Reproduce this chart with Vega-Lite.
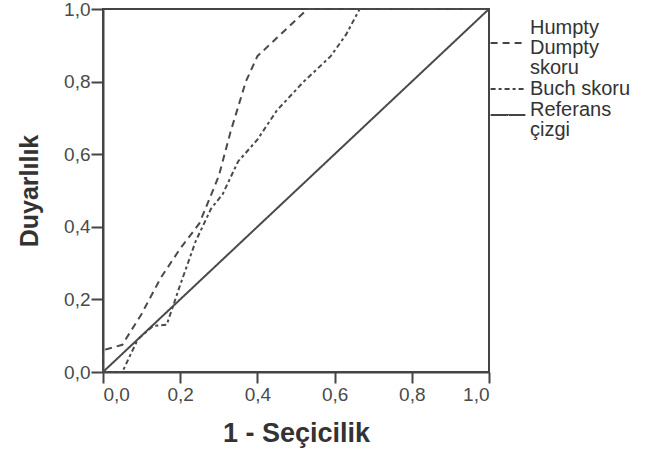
{
  "$schema": "https://vega.github.io/schema/vega-lite/v6.json",
  "width": 386,
  "height": 363,
  "autosize": "none",
  "padding": {"left": 103, "top": 9, "right": 161, "bottom": 82},
  "background": "white",
  "config": {
    "font": "Liberation Sans",
    "view": {"stroke": "#444444", "strokeWidth": 2}
  },
  "data": {
    "values": [
      {"series": "Humpty|Dumpty|skoru", "o": 0, "x": 0.0, "y": 0.0},
      {"series": "Humpty|Dumpty|skoru", "o": 1, "x": 0.0, "y": 0.06},
      {"series": "Humpty|Dumpty|skoru", "o": 2, "x": 0.05, "y": 0.075},
      {"series": "Humpty|Dumpty|skoru", "o": 3, "x": 0.1, "y": 0.16},
      {"series": "Humpty|Dumpty|skoru", "o": 4, "x": 0.15, "y": 0.26},
      {"series": "Humpty|Dumpty|skoru", "o": 5, "x": 0.2, "y": 0.34},
      {"series": "Humpty|Dumpty|skoru", "o": 6, "x": 0.25, "y": 0.41},
      {"series": "Humpty|Dumpty|skoru", "o": 7, "x": 0.3, "y": 0.54},
      {"series": "Humpty|Dumpty|skoru", "o": 8, "x": 0.33, "y": 0.66},
      {"series": "Humpty|Dumpty|skoru", "o": 9, "x": 0.37, "y": 0.8},
      {"series": "Humpty|Dumpty|skoru", "o": 10, "x": 0.4, "y": 0.87},
      {"series": "Humpty|Dumpty|skoru", "o": 11, "x": 0.45, "y": 0.92},
      {"series": "Humpty|Dumpty|skoru", "o": 12, "x": 0.5, "y": 0.97},
      {"series": "Humpty|Dumpty|skoru", "o": 13, "x": 0.53, "y": 1.0},
      {"series": "Humpty|Dumpty|skoru", "o": 14, "x": 1.0, "y": 1.0},
      {"series": "Buch skoru", "o": 0, "x": 0.0, "y": 0.0},
      {"series": "Buch skoru", "o": 1, "x": 0.05, "y": 0.0},
      {"series": "Buch skoru", "o": 2, "x": 0.09, "y": 0.09},
      {"series": "Buch skoru", "o": 3, "x": 0.13, "y": 0.127},
      {"series": "Buch skoru", "o": 4, "x": 0.165, "y": 0.13},
      {"series": "Buch skoru", "o": 5, "x": 0.2, "y": 0.24},
      {"series": "Buch skoru", "o": 6, "x": 0.24, "y": 0.36},
      {"series": "Buch skoru", "o": 7, "x": 0.28, "y": 0.45},
      {"series": "Buch skoru", "o": 8, "x": 0.31, "y": 0.49},
      {"series": "Buch skoru", "o": 9, "x": 0.35, "y": 0.58},
      {"series": "Buch skoru", "o": 10, "x": 0.4, "y": 0.64},
      {"series": "Buch skoru", "o": 11, "x": 0.45, "y": 0.72},
      {"series": "Buch skoru", "o": 12, "x": 0.52, "y": 0.8},
      {"series": "Buch skoru", "o": 13, "x": 0.59, "y": 0.87},
      {"series": "Buch skoru", "o": 14, "x": 0.63, "y": 0.93},
      {"series": "Buch skoru", "o": 15, "x": 0.665, "y": 1.0},
      {"series": "Buch skoru", "o": 16, "x": 1.0, "y": 1.0},
      {"series": "Referans|çizgi", "o": 0, "x": 0.0, "y": 0.0},
      {"series": "Referans|çizgi", "o": 1, "x": 1.0, "y": 1.0}
    ]
  },
  "mark": {"type": "line", "color": "#4a4a4a", "strokeWidth": 2},
  "encoding": {
    "x": {
      "field": "x", "type": "quantitative",
      "scale": {"domain": [0, 1], "nice": false, "zero": false},
      "axis": {
        "title": "1 - Seçicilik", "values": [0, 0.2, 0.4, 0.6, 0.8, 1.0],
        "labelExpr": "replace(format(datum.value, '.1f'), '.', ',')",
        "grid": false, "domainColor": "#444444", "domainWidth": 2,
        "tickColor": "#444444", "tickWidth": 2, "tickSize": 11,
        "labelFontSize": 19, "labelColor": "#4a4a4a", "labelPadding": 2,
        "titleFontSize": 27, "titleFontWeight": "bold", "titleColor": "#333333",
        "titlePadding": 16
      }
    },
    "y": {
      "field": "y", "type": "quantitative",
      "scale": {"domain": [0, 1], "nice": false, "zero": false},
      "axis": {
        "title": "Duyarlılık", "values": [0, 0.2, 0.4, 0.6, 0.8, 1.0],
        "labelExpr": "replace(format(datum.value, '.1f'), '.', ',')",
        "grid": false, "domainColor": "#444444", "domainWidth": 2,
        "tickColor": "#444444", "tickWidth": 2, "tickSize": 12,
        "labelFontSize": 19, "labelColor": "#4a4a4a", "labelPadding": 1,
        "titleFontSize": 25, "titleFontWeight": "bold", "titleColor": "#333333",
        "titlePadding": 21
      }
    },
    "order": {"field": "o", "type": "quantitative"},
    "strokeDash": {
      "field": "series", "type": "nominal",
      "scale": {
        "domain": ["Humpty|Dumpty|skoru", "Buch skoru", "Referans|çizgi"],
        "range": [[7, 5], [5, 3, 3, 3], [1, 0]]
      },
      "legend": {
        "title": null, "orient": "none", "legendX": 395, "legendY": 24,
        "padding": 0,
        "symbolType": "M-2.9,0H2.9", "symbolSize": 144, "symbolStrokeWidth": 2,
        "symbolStrokeColor": "#444444", "symbolFillColor": "transparent",
        "labelExpr": "split(datum.label, '|')",
        "labelFontSize": 20, "labelColor": "#333333", "labelOffset": 12,
        "labelLineHeight": 20,
        "rowPadding": 1,
        "encode": {
          "labels": {
            "update": {
              "lineHeight": {"value": 20},
              "dy": {"signal": "datum.value == 'Humpty|Dumpty|skoru' ? -15 : datum.value == 'Referans|çizgi' ? -5 : 0"}
            }
          }
        }
      }
    }
  }
}
